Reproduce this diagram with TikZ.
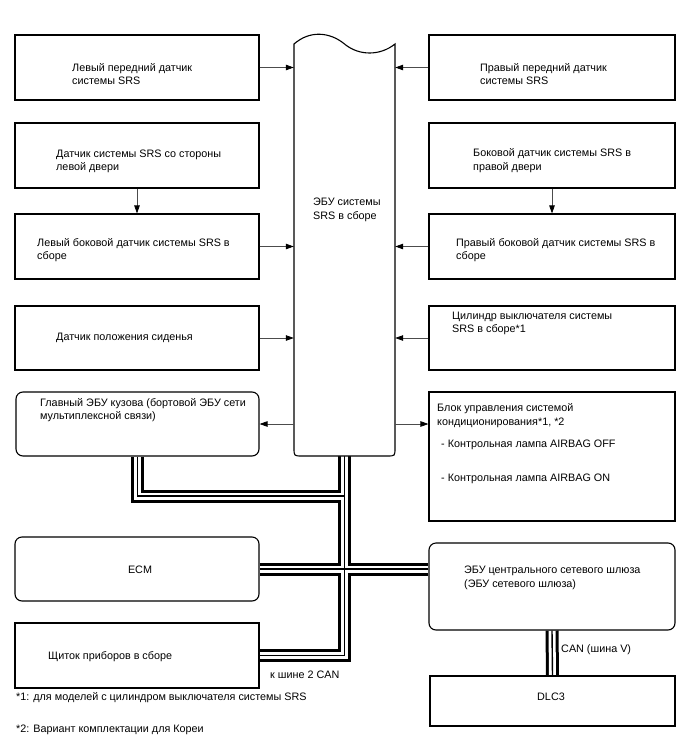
\documentclass[tikz,border=0pt]{standalone}
\usepackage{fontspec}
\setmainfont{Liberation Sans}
\usetikzlibrary{arrows.meta,calc}
\pgfdeclarelayer{bg}
\pgfsetlayers{bg,main}
\newcommand\dgfont{\fontsize{10.8pt}{13.5pt}\selectfont}
\begin{document}
\begin{tikzpicture}[x=1pt,y=-1pt,
  box/.style={draw=black,line width=1.1pt,fill=white,inner sep=0pt},
  rbox/.style={box,rounded corners=7pt},
  lbl/.style={anchor=west,align=left,inner sep=0pt,font=\dgfont},
  ctr/.style={align=center,inner sep=0pt,font=\dgfont},
  arr/.style={draw=black!70,line width=0.8pt,-{Triangle[length=8pt,width=5.5pt,black]}},
  ]
\useasboundingbox (0,0) rectangle (688,755);

% left column
\node[box,minimum width=244,minimum height=65] (L1) at (137,67.5) {};
\node[box,minimum width=244,minimum height=65] (L2) at (137,155.5) {};
\node[box,minimum width=244,minimum height=65] (L3) at (137,246.5) {};
\node[box,minimum width=244,minimum height=64] (L4) at (137,338) {};
\node[rbox,minimum width=243,minimum height=64] (body) at (137.5,424) {};
\node[rbox,minimum width=244,minimum height=64] (ecm) at (137,569) {};
\node[box,minimum width=244,minimum height=65] (instr) at (137,655.5) {};

% right column
\node[box,minimum width=246,minimum height=65] (R1) at (552,67.5) {};
\node[box,minimum width=246,minimum height=65] (R2) at (552,155.5) {};
\node[box,minimum width=246,minimum height=65] (R3) at (552,246.5) {};
\node[box,minimum width=246,minimum height=64] (R4) at (552,338) {};
\node[box,minimum width=246,minimum height=129] (AC) at (552,456.5) {};
\node[rbox,minimum width=246,minimum height=87] (GW) at (552,586.5) {};
\node[box,minimum width=245,minimum height=50] (DLC) at (552.5,701) {};

% SRS ECU
\node[inner sep=0pt,minimum width=101,minimum height=412] (ecu) at (344.5,250) {};
\draw[line width=1.1pt,fill=white] (294,44) .. controls (310,30) and (330,32) .. (344.5,44)
  .. controls (359,56) and (380,56) .. (395,44) -- (395,448)
  .. controls (395,456) .. (387,456) -- (302,456)
  .. controls (294,456) .. (294,448) -- cycle;

% buses
\begin{pgfonlayer}{bg}
\fill[white] (0,0) rectangle (688,755);
\foreach \w/\c in {13/black,7/white,1.4/black}{
  \draw[line width=\w pt,\c] (ecu.south) -- (ecu.south |- instr.east) -- (instr.east);
  \draw[line width=\w pt,\c] (body.south) -- (body.south |- 0,496) -- (ecu.south |- 0,496);
  \draw[line width=\w pt,\c] (ecm.east) -- (ecm.east -| GW.west);
  \draw[line width=\w pt,\c] (GW.south) -- (DLC.north);
}
\end{pgfonlayer}

% arrows
\draw[arr] (L1.east) -- (L1.east -| ecu.west);
\draw[arr] (R1.west) -- (R1.west -| ecu.east);
\draw[arr] (L2.south) -- (L3.north);
\draw[arr] (R2.south) -- (R3.north);
\draw[arr] (L3.east) -- (L3.east -| ecu.west);
\draw[arr] (R3.west) -- (R3.west -| ecu.east);
\draw[arr] (L4.east) -- (L4.east -| ecu.west);
\draw[arr] (R4.west) -- (R4.west -| ecu.east);
\draw[arr] (ecu.west |- body.east) -- (body.east);
\draw[arr] (ecu.east |- body.east) -- (body.east -| AC.west);

% texts
\node[lbl] (tL1) at (72,74) {Левый передний датчик\\системы SRS};
\node[lbl] (tL2) at (56,161.5) {Датчик системы SRS со стороны\\левой двери};
\node[lbl] (tL3) at (37,250) {Левый боковой датчик системы SRS в\\сборе};
\node[lbl] (tL4) at (56,338) {Датчик положения сиденья};
\node[lbl] (tbody) at (40,410) {Главный ЭБУ кузова (бортовой ЭБУ сети\\мультиплексной связи)};
\node[ctr] (tecm) at (140,570) {ECM};
\node[lbl] (tinstr) at (48,657) {Щиток приборов в сборе};

\node[lbl] (tR1) at (480,74) {Правый передний датчик\\системы SRS};
\node[lbl] (tR2) at (473,160.5) {Боковой датчик системы SRS в\\правой двери};
\node[lbl] (tR3) at (456,250) {Правый боковой датчик системы SRS в\\сборе};
\node[lbl] (tR4) at (452,323.5) {Цилиндр выключателя системы\\SRS в сборе*1};
\node[lbl] (tAC) at (437,415.5) {Блок управления системой\\кондиционирования*1, *2};
\node[lbl] (tAC2) at (441,445) {- Контрольная лампа AIRBAG OFF};
\node[lbl] (tAC3) at (441,479) {- Контрольная лампа AIRBAG ON};
\node[lbl] (tGW) at (464,578) {ЭБУ центрального сетевого шлюза\\(ЭБУ сетевого шлюза)};
\node[ctr] (tDLC) at (551,697) {DLC3};

\node[lbl] (tecu) at (313,210) {ЭБУ системы\\SRS в сборе};

\node[lbl] (tcan) at (561,650) {CAN (шина V)};
\node[lbl] (tcan2) at (270,675) {к шине 2 CAN};
\node[lbl] (fn1) at (16,698) {*1: для моделей с цилиндром выключателя системы SRS};
\node[lbl] (fn2) at (16,730) {*2: Вариант комплектации для Кореи};
\end{tikzpicture}
\end{document}
